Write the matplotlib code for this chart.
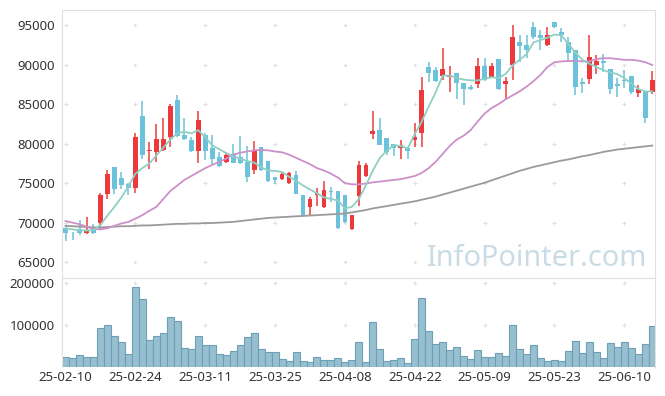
import numpy as np
import matplotlib
matplotlib.use('Agg')
import matplotlib.pyplot as plt

plt.rcParams['font.family'] = ['Noto Sans', 'DejaVu Sans']

# 일봉 데이터 (시가, 고가, 저가, 종가)
opens = [69300, 68350, 69150, 68650, 69450, 69900, 73600, 77000, 75600, 74950,
         74400, 83500, 79050, 78950, 79200, 80850, 85500, 81100, 80450, 79100,
         81100, 79450, 78350, 77700, 78650, 78350, 77700, 76650, 79600, 77800,
         75800, 75500, 75050, 76000, 73500, 72000, 73500, 72000, 74050, 74000,
         73500, 69150, 73400, 75950, 81200, 81700, 80750, 79950, 79450, 79450,
         80450, 81350, 89650, 89300, 88600, 88400, 88950, 87700, 87100, 87500,
         89800, 88450, 90700, 87600, 90000, 92800, 92450, 94700, 93800, 92450,
         95350, 94150, 92800, 91900, 87750, 88200, 90000, 90450, 89500, 87600,
         88050, 88550, 86450, 86650, 86550]
highs = [69650, 68800, 70300, 70750, 69800, 73800, 76650, 77050, 76350, 75050,
         81300, 85350, 80250, 82450, 83300, 85000, 86100, 83300, 80850, 84100,
         81400, 81150, 78950, 78950, 80000, 81000, 79700, 80350, 79600, 77800,
         75800, 76350, 76400, 76550, 73500, 73300, 74350, 75300, 74450, 74000,
         73500, 70950, 77800, 77500, 84100, 83250, 80750, 79950, 80450, 79600,
         82550, 88450, 90350, 89750, 92050, 89800, 88950, 87700, 87400, 90800,
         90800, 90250, 90700, 88450, 95000, 93750, 93750, 95400, 94350, 94700,
         95400, 94600, 93500, 91900, 88350, 93750, 91200, 91300, 89500, 88250,
         89300, 88550, 87400, 86650, 89200]
lows = [67700, 67800, 68450, 68550, 68550, 69250, 72950, 73600, 74250, 73550,
        73800, 78100, 76850, 77700, 79100, 79600, 80800, 80450, 78950, 77600,
        77900, 77400, 77000, 77600, 77500, 77400, 75150, 76100, 76550, 75150,
        74850, 75450, 74950, 73600, 70800, 70950, 72100, 71900, 72650, 69250,
        70000, 69050, 72150, 75800, 80550, 79800, 78550, 78450, 78100, 78100,
        79600, 79600, 87850, 87850, 88050, 86550, 85700, 84900, 86750, 87000,
        87950, 88400, 86750, 85700, 88100, 90350, 90800, 93200, 91850, 92350,
        94600, 92900, 90350, 86150, 86350, 87600, 88800, 89100, 86250, 85850,
        87000, 86250, 85950, 82650, 86250]
closes = [68700, 68250, 68650, 68900, 68650, 73500, 76150, 74300, 74750, 74400,
          80800, 78550, 79150, 80550, 80550, 84750, 80950, 80550, 79100, 83000,
          79100, 78100, 77200, 78550, 77600, 77600, 75800, 79050, 76650, 75300,
          75400, 76150, 76250, 73600, 70950, 73050, 73800, 74100, 73900, 69350,
          70100, 70950, 77300, 77300, 81600, 79800, 78950, 79450, 79800, 79100,
          80850, 86750, 88950, 87900, 89450, 88650, 87700, 86850, 86950, 89800,
          88050, 89800, 86850, 87900, 93450, 92400, 91900, 93450, 93400, 93750,
          94700, 93750, 91400, 87100, 87600, 90900, 90450, 90150, 86850, 87300,
          87900, 86500, 86850, 83250, 88050]
volumes = [23500, 21000, 28000, 23500, 23500, 94000, 101000, 73000, 59000, 30600,
           190000, 162000, 63500, 73000, 82000, 120000, 110500, 44700, 42400, 73000,
           51800, 51800, 30600, 28000, 37600, 51800, 70600, 82000, 42400, 35300,
           35300, 18800, 14100, 35300, 14100, 11800, 23500, 16500, 16500, 21000,
           11800, 16500, 59000, 11800, 108000, 42400, 14100, 16500, 21000, 9400,
           66000, 165000, 85000, 54000, 59000, 40000, 47000, 26000, 18800, 40000,
           23500, 23500, 33000, 26000, 101000, 42400, 30600, 51800, 21000, 14100,
           16500, 14100, 37600, 61000, 33000, 59000, 35300, 21000, 56500, 47000,
           59000, 44700, 30600, 54000, 96500]

# 이동평균선
ma5 = [69270, 69150, 69050, 69000, 69050, 69700, 70900, 72000, 73200, 74600,
       76200, 76900, 77500, 78500, 79500, 80500, 81300, 81500, 81300, 81700,
       80800, 79800, 79300, 78800, 78400, 78100, 77800, 77600, 77000, 76600,
       76550, 76400, 75800, 75300, 74700, 74200, 73700, 73200, 73000, 72800,
       71800, 72000, 73000, 74700, 76600, 78200, 79100, 79800, 79700, 79400,
       81200, 82800, 84700, 86500, 88600, 88600, 88300, 88100, 88000, 88000,
       88200, 88400, 88300, 88800, 89900, 90600, 91300, 92800, 93100, 93400,
       93800, 93700, 92600, 91500, 90600, 90100, 89700, 89300, 89000, 88800,
       88300, 87600, 86900, 86600, 86600]
ma20 = [70200, 70000, 69800, 69500, 69200, 69150, 69300, 69600, 69900, 70100,
        70500, 70950, 71500, 72000, 73000, 74000, 74700, 75400, 75900, 76400,
        76900, 77300, 77700, 78100, 78600, 78850, 79000, 79150, 79200, 79150,
        79000, 78900, 78600, 78200, 77800, 77400, 76900, 76600, 76200, 75700,
        75000, 74850, 74850, 74950, 75100, 75200, 75300, 75400, 75500, 75700,
        75900, 76300, 76900, 77700, 78700, 79700, 80500, 81000, 81700, 82800,
        83800, 84500, 85000, 85600, 86100, 86600, 87200, 87900, 88700, 89700,
        90300, 90400, 90450, 90450, 90400, 90400, 90700, 90800, 90800, 90700,
        90600, 90600, 90500, 90300, 89950]
ma60 = [69600, 69550, 69500, 69450, 69400, 69400, 69450, 69500, 69550, 69550,
        69600, 69650, 69650, 69700, 69750, 69800, 69850, 69850, 69900, 69900,
        69950, 69950, 70000, 70050, 70100, 70200, 70300, 70400, 70500, 70600,
        70650, 70700, 70750, 70800, 70850, 70900, 70950, 71000, 71050, 71100,
        71150, 71300, 71450, 71600, 71800, 71950, 72100, 72250, 72400, 72550,
        72700, 72900, 73100, 73300, 73550, 73800, 74050, 74300, 74550, 74800,
        75050, 75350, 75650, 75950, 76250, 76550, 76800, 77050, 77250, 77450,
        77650, 77850, 78000, 78200, 78400, 78550, 78750, 78950, 79100, 79250,
        79350, 79450, 79550, 79650, 79750]

tick_labels = ['25-02-10', '25-02-24', '25-03-11', '25-03-25', '25-04-08',
               '25-04-22', '25-05-09', '25-05-23', '25-06-10']
price_ticks = [65000, 70000, 75000, 80000, 85000, 90000, 95000]
vol_ticks = [100000, 200000]

o = np.array(opens)
h = np.array(highs)
l = np.array(lows)
c = np.array(closes)
x = np.arange(len(o))
tick_pos = x[::10][:len(tick_labels)]

up_color = '#ec3a3c'
down_color = '#6cc2da'
colors = np.where(c >= o, up_color, down_color)

fig = plt.figure(figsize=(6.65, 3.96), dpi=100)
ax = fig.add_axes([0.0928, 0.298, 0.8922, 0.6767])
axv = fig.add_axes([0.0928, 0.0732, 0.8922, 0.2248], sharex=ax)

# 캔들
body_low = np.minimum(o, c)
body_h = np.maximum(np.abs(c - o), 60)
ax.vlines(x, l, h, colors=colors, linewidth=1.1, zorder=2)
ax.bar(x, body_h, bottom=body_low, width=0.68, color=colors, zorder=3)

# 이동평균선
ax.plot(x, ma60, color='#9a9a9a', linewidth=1.3, zorder=4)
ax.plot(x, ma20, color='#cc8fca', linewidth=1.3, zorder=4)
ax.plot(x, ma5, color='#8ed0c4', linewidth=1.3, zorder=4)

ax.set_ylim(63000, 96900)
ax.set_xlim(-0.55, 84.4)
ax.set_yticks(price_ticks)
ax.set_yticklabels([str(t) for t in price_ticks])

# 격자 '+' 표시
gx, gy = np.meshgrid(tick_pos, price_ticks)
ax.scatter(gx.ravel(), gy.ravel(), marker='+', s=12, color='#e0e0e0', linewidths=0.8, zorder=1)

ax.text(0.9865, 0.045, 'InfoPointer.com', transform=ax.transAxes, ha='right', va='baseline',
        fontsize=20.8, color='#c9dbe5', zorder=0)

# 거래량
axv.bar(x, volumes, width=1.0, color='#97bfcf', edgecolor='#6d9fb6', linewidth=0.8, zorder=2)
axv.set_ylim(0, 211800)
axv.set_yticks(vol_ticks)
axv.set_yticklabels([str(t) for t in vol_ticks])
vx, vy = np.meshgrid(tick_pos, vol_ticks)
axv.scatter(vx.ravel(), vy.ravel(), marker='+', s=12, color='#e0e0e0', linewidths=0.8, zorder=1)
axv.set_xticks(tick_pos)
axv.set_xticklabels(tick_labels)

for a in (ax, axv):
    for s in a.spines.values():
        s.set_color('#e0e0e0')
    a.tick_params(length=0, labelsize=9.5, colors='#333333', pad=5)
axv.spines['bottom'].set_visible(False)
ax.tick_params(axis='x', labelbottom=False)
axv.tick_params(axis='x', pad=3)

fig.savefig('out.png', dpi=100)
